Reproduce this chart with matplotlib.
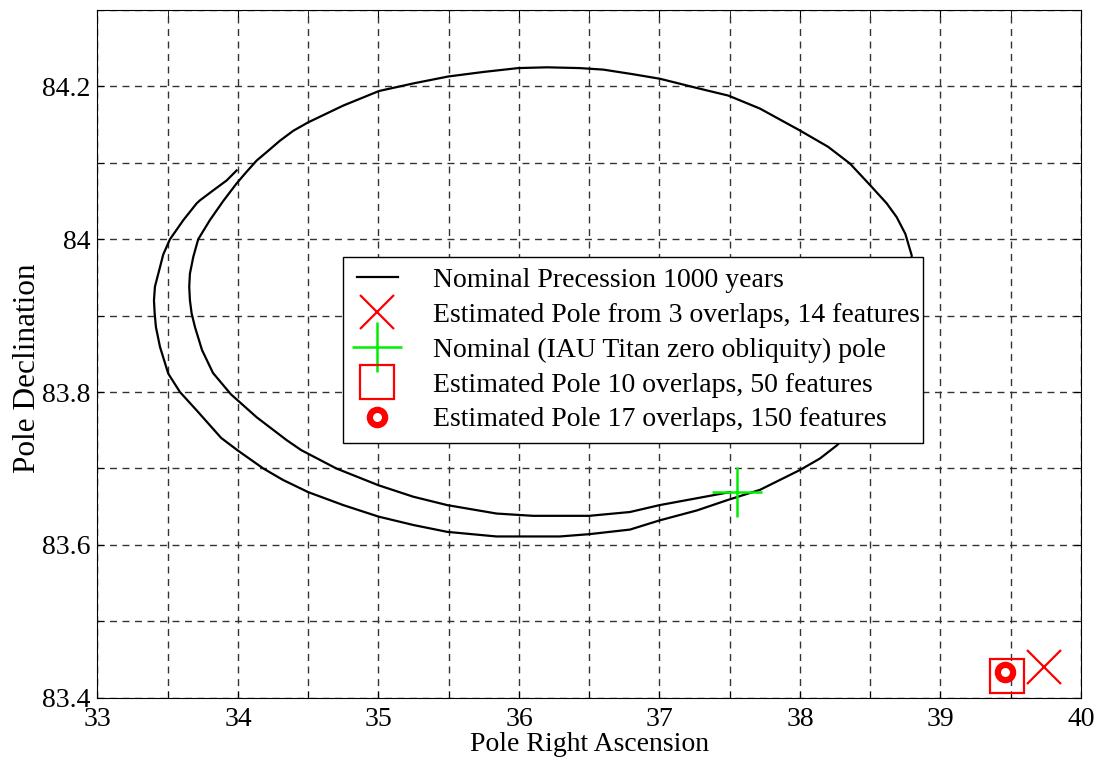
import matplotlib
matplotlib.use("Agg")
import matplotlib.pyplot as plt
from matplotlib.ticker import MultipleLocator
from matplotlib.legend_handler import HandlerLine2D

plt.rcParams['font.family'] = ['Liberation Serif', 'DejaVu Serif']

# precession track (outer loop first, then inner loop)
ra = [33.99, 33.92, 33.824, 33.73, 33.706, 33.611, 33.516, 33.468, 33.433, 33.409,
      33.402, 33.407, 33.416, 33.445, 33.504, 33.587, 33.706, 33.88, 33.995, 34.18,
      34.32, 34.50, 34.75, 35.00, 35.248, 35.49, 35.84, 36.00, 36.29, 36.50,
      36.79, 37.00, 37.265, 37.49, 37.715, 38.00, 38.142, 38.261, 38.40, 38.55,
      38.67, 38.75, 38.79, 38.795, 38.75, 38.688, 38.617, 38.498, 38.356, 38.20,
      37.993, 37.715, 37.49, 37.265, 37.004, 36.81, 36.60, 36.43, 36.20, 35.995,
      35.75, 35.497, 35.25, 35.004, 34.75, 34.50, 34.394, 34.299, 34.204, 34.133,
      34.06, 33.99, 33.895, 33.80, 33.717, 33.682, 33.658, 33.653, 33.658, 33.67,
      33.694, 33.744, 33.822, 33.950, 34.133, 34.347, 34.45, 34.70, 35.00, 35.248,
      35.49, 35.84, 36.10, 36.50, 36.79, 37.00, 37.265, 37.50]
dec = [84.090, 84.077, 84.064, 84.051, 84.047, 84.025, 84.000, 83.980, 83.955, 83.938,
       83.920, 83.903, 83.885, 83.859, 83.824, 83.800, 83.776, 83.740, 83.724, 83.700,
       83.685, 83.669, 83.652, 83.637, 83.626, 83.617, 83.611, 83.611, 83.611, 83.614,
       83.620, 83.632, 83.645, 83.659, 83.672, 83.698, 83.713, 83.730, 83.755, 83.800,
       83.860, 83.920, 83.955, 83.979, 84.007, 84.029, 84.047, 84.071, 84.099, 84.121,
       84.143, 84.171, 84.188, 84.198, 84.210, 84.216, 84.222, 84.224, 84.225, 84.224,
       84.219, 84.213, 84.204, 84.194, 84.175, 84.153, 84.142, 84.129, 84.114, 84.103,
       84.088, 84.073, 84.050, 84.025, 84.000, 83.977, 83.955, 83.938, 83.920, 83.903,
       83.885, 83.855, 83.825, 83.797, 83.767, 83.737, 83.724, 83.700, 83.678, 83.663,
       83.652, 83.641, 83.638, 83.638, 83.643, 83.652, 83.661, 83.669]

pole_3 = (39.74, 83.440)      # 3 overlaps, 14 features
pole_iau = (37.55, 83.669)    # nominal IAU pole
pole_10 = (39.477, 83.428)    # 10 overlaps, 50 features
pole_17 = (39.459, 83.433)    # 17 overlaps, 150 features

xticks = [33, 34, 35, 36, 37, 38, 39, 40]
yticks = [83.4, 83.6, 83.8, 84.0, 84.2]
ytick_labels = ['83.4', '83.6', '83.8', '84', '84.2']

fig = plt.figure(figsize=(10.99, 7.64), dpi=100)
ax = fig.add_axes([0.0887, 0.0868, 0.8949, 0.9001])

track, = ax.plot(ra, dec, color='black', lw=1.6, label='Nominal Precession 1000 years')
ax.plot(*pole_3, marker='x', color='red', ms=25, mew=1.6, ls='none',
        label='Estimated Pole from 3 overlaps, 14 features')
ax.plot(*pole_iau, marker='+', color='#00ee00', ms=36, mew=1.8, ls='none',
        label='Nominal (IAU Titan zero obliquity) pole')
ax.plot(*pole_10, marker='s', mfc='none', mec='red', ms=25, mew=1.6, ls='none',
        label='Estimated Pole 10 overlaps, 50 features')
ax.plot(*pole_17, marker='o', mfc='white', mec='red', ms=11, mew=4.5, ls='none',
        label='Estimated Pole 17 overlaps, 150 features')

ax.set_xlim(33, 40)
ax.set_ylim(83.4, 84.3)
ax.set_xticks(xticks)
ax.set_xticklabels([str(t) for t in xticks])
ax.set_yticks(yticks)
ax.set_yticklabels(ytick_labels)
ax.xaxis.set_minor_locator(MultipleLocator(0.5))
ax.yaxis.set_minor_locator(MultipleLocator(0.1))
ax.tick_params(which='both', direction='in', top=True, right=True, length=5,
               labelsize=20)
ax.tick_params(axis='x', pad=7)
ax.tick_params(axis='y', pad=5)
ax.grid(which='both', color='#333333', ls=(0, (5, 4)), lw=1.0)
ax.set_axisbelow(True)

ax.set_xlabel('Pole Right Ascension', fontsize=20, labelpad=0)
ax.set_ylabel('Pole Declination', fontsize=22.5)
ax.yaxis.set_label_coords(-0.0565, 0.479)

leg = ax.legend(loc='upper left', bbox_to_anchor=(0.2496, 0.370, 0.5894, 0.271),
                mode='expand', fontsize=20, fancybox=False, framealpha=1,
                edgecolor='black', borderaxespad=0, handlelength=1.72,
                handletextpad=1.14, labelspacing=0.34, borderpad=0.38,
                handler_map={track: HandlerLine2D(numpoints=2, marker_pad=0.12)})
leg.get_frame().set_linewidth(1.0)

fig.savefig('out.png', dpi=100)
